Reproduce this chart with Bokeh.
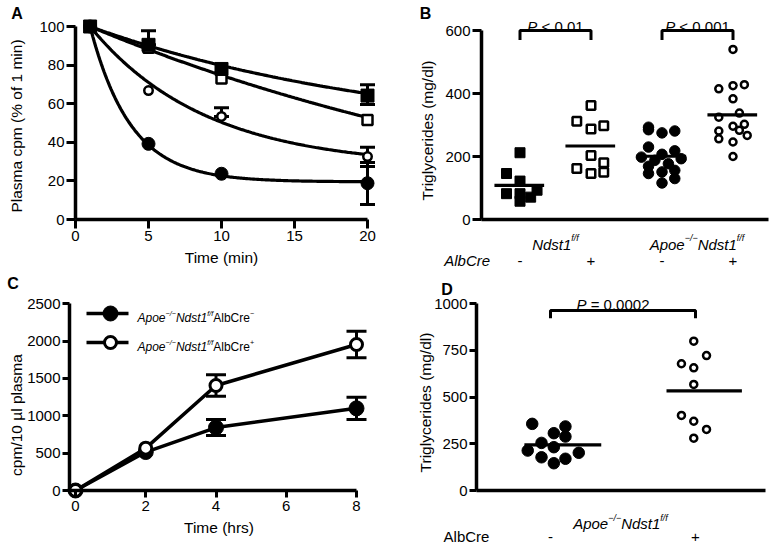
import numpy as np
from bokeh.plotting import figure
from bokeh.models import Range1d, FixedTicker, Label, Whisker, TeeHead, ColumnDataSource
from bokeh.layouts import column, row
from bokeh.embed import file_html
from bokeh.resources import INLINE

FONT = "Liberation Sans"

# ---------------- Panel A : plasma clearance ----------------
a_time = [1, 5, 10, 20]
a_sq_filled = [100, 90.5, 78, 64.2]
a_sq_open = [100, 89, 73, 51.6]
a_ci_open = [100, 66.8, 53.4, 32.6]
a_ci_filled = [100, 39.2, 23.7, 18.8]
# error bars (only points that have visible bars): time, upper, lower
a_err_time = [5, 20, 10, 20, 20]
a_err_hi = [97.8, 69.8, 57.9, 37.5, 29.5]
a_err_lo = [90.5, 59.6, 53.4, 27.5, 7.8]
# one-phase decay fits (filled sq, open sq, open circle, filled circle)
a_fit_plateau = [40, -20, 27, 19.5]
a_fit_k = [0.0456, 0.0263, 0.1265, 0.36]

# ---------------- Panel B : triglycerides ----------------
b_g1_val = [212, 146, 122, 93, 82, 82, 71, 58]
b_g1_off = [0.0, -0.19, 0.0, 0.24, -0.19, 0.0, 0.15, 0.0]
b_g2_val = [362, 312, 298, 287, 203, 180, 162, 150, 146]
b_g2_off = [0.0, -0.2, 0.18, 0.0, 0.0, 0.18, -0.2, 0.18, 0.0]
b_g3_val = [293, 285, 281, 275, 230, 218, 207, 198, 193, 188, 177, 169, 156, 151, 146, 130, 116]
b_g3_off = [-0.19, -0.19, 0.18, 0.0, -0.19, 0.18, 0.0, -0.29, 0.27, -0.1, 0.09, -0.19, 0.18, 0.0, -0.19, 0.18, 0.0]
b_g4_val = [540, 428, 425, 415, 383, 338, 325, 302, 296, 283, 281, 267, 256, 246, 200]
b_g4_off = [0.0, 0.16, 0.0, -0.2, 0.0, 0.09, -0.2, 0.16, 0.0, 0.09, -0.2, 0.2, -0.2, 0.0, 0.0]
b_pvals = ["< 0.01", "< 0.001"]
b_albcre = ["-", "+", "-", "+"]

# ---------------- Panel C : time course ----------------
c_time = [0, 2, 4, 8]
c_minus = [0, 515, 843, 1100]
c_minus_err = [0, 0, 107, 150]
c_plus = [0, 567, 1406, 1955]
c_plus_err = [0, 0, 143, 178]

# ---------------- Panel D : triglycerides ----------------
d_g1_val = [357, 343, 307, 289, 255, 232, 214, 202, 178, 170, 146]
d_g1_off = [-0.126, 0.103, 0.023, 0.103, -0.062, 0.023, -0.157, 0.195, -0.062, 0.103, 0.023]
d_g2_val = [800, 723, 679, 657, 568, 402, 371, 327, 280]
d_g2_off = [-0.012, 0.076, -0.097, -0.012, -0.012, -0.097, -0.012, 0.076, -0.012]
d_pval = "= 0.0002"
d_albcre = ["-", "+"]

# ---------------- helpers ----------------
WID = {' ': 278, '%': 889, '(': 333, ')': 333, '+': 584, '-': 333, '.': 278, '/': 278,
       '<': 584, '=': 584, '>': 584, 'A': 667, 'B': 667, 'C': 722, 'D': 722, 'N': 722,
       'P': 667, 'T': 611, 'a': 556, 'b': 556, 'c': 500, 'd': 556, 'e': 556, 'f': 278,
       'g': 556, 'i': 222, 'l': 222, 'm': 833, 'n': 556, 'o': 556, 'p': 556, 'r': 333,
       's': 500, 't': 278, 'u': 556, 'y': 500, '\u2212': 584, '\u00b5': 576}


def text_w(s, size):
    return sum(WID.get(ch, 556) for ch in s) * size / 1000.0


def mapper(px_ref, x_ref, sx, py_ref, y_ref, sy):
    return lambda px, py: (x_ref + (px - px_ref) / sx, y_ref + (py_ref - py) / sy)


def rich(p, m, px, py, parts, size, align="center"):
    """px, py: page position (py = text baseline)"""
    x, y = m(px, py)
    items, total = [], 0.0
    for txt, style, sup in parts:
        sz = size * 0.6 if sup else size
        items.append((txt, style, sup, sz, text_w(txt, sz)))
        total += items[-1][4]
    off = -total / 2 if align == "center" else 0.0
    for txt, style, sup, sz, w in items:
        body = txt.lstrip(" ")
        lead = text_w(txt[:len(txt) - len(body)], sz)
        p.add_layout(Label(x=x, y=y, x_offset=off + lead, y_offset=size * 0.40 if sup else 0,
                           text=body, text_font=FONT, text_font_size=f"{sz:.1f}px",
                           text_font_style=style, text_align="left",
                           text_baseline="alphabetic", text_color="black"))
        off += w


def simple_label(p, m, px, py, txt, size, style="normal", angle=0.0):
    x, y = m(px, py)
    p.add_layout(Label(x=x, y=y, text=txt, text_font=FONT, text_font_size=f"{size}px",
                       text_font_style=style, text_align="center", text_baseline="middle",
                       angle=angle, text_color="black"))


def make_panel(ox, oy, W, H, m, tick_out):
    x0, y0 = m(ox, oy + H)
    x1, y1 = m(ox + W, oy)
    p = figure(width=W, height=H, x_range=Range1d(x0, x1), y_range=Range1d(y0, y1),
               output_backend="svg", toolbar_location=None,
               min_border=0, min_border_left=0, min_border_right=0,
               min_border_top=0, min_border_bottom=0)
    p.title.visible = False
    p.outline_line_color = None
    p.xgrid.visible = False
    p.ygrid.visible = False
    p.background_fill_color = "white"
    p.border_fill_color = "white"
    for ax in (p.xaxis[0], p.yaxis[0]):
        ax.axis_line_width = 3.5
        ax.axis_line_color = "black"
        ax.major_tick_line_width = 3
        ax.major_tick_line_color = "black"
        ax.major_tick_in = 0
        ax.major_tick_out = tick_out
        ax.minor_tick_out = 0
        ax.minor_tick_in = 0
        ax.major_label_text_font = FONT
        ax.major_label_text_font_size = "15px"
        ax.major_label_text_color = "black"
        ax.major_label_standoff = 2
    return p


def no_ticks(ax):
    ax.ticker = FixedTicker(ticks=[])
    ax.major_tick_out = 0
    ax.major_label_text_font_size = "0px"


# ================= Panel A =================
mA = mapper(75, 0, 14.6, 219, 0, 1.93)
pA = make_panel(0, 0, 390, 268, mA, 9)
pA.xaxis.fixed_location = 0
pA.yaxis.fixed_location = 0
pA.xaxis.ticker = FixedTicker(ticks=[0, 5, 10, 15, 20])
pA.xaxis.bounds = (0, 20)
pA.yaxis.ticker = FixedTicker(ticks=[0, 20, 40, 60, 80, 100])
pA.yaxis.bounds = (0, 100)

srcAe = ColumnDataSource(dict(t=a_err_time, hi=a_err_hi, lo=a_err_lo))
pA.add_layout(Whisker(base="t", upper="hi", lower="lo", source=srcAe, line_width=3,
                      upper_head=TeeHead(size=15, line_width=3),
                      lower_head=TeeHead(size=15, line_width=3)))
tt = np.linspace(1, 20, 200)
for P, k in zip(a_fit_plateau, a_fit_k):
    pA.line(tt, P + (100 - P) * np.exp(-k * (tt - 1)), line_width=3.2, line_color="black")
pA.scatter(a_time, a_ci_filled, marker="circle", size=13, fill_color="black", line_color="black")
pA.scatter(a_time, a_ci_open, marker="circle", size=8.5, fill_color="white", line_color="black", line_width=2.5)
pA.scatter(a_time, a_sq_open, marker="square", size=10, fill_color="white", line_color="black", line_width=2.5)
pA.scatter(a_time, a_sq_filled, marker="square", size=13, fill_color="black", line_color="black")
simple_label(pA, mA, 16, 125.5, "Plasma cpm (% of 1 min)", 15.5, angle=np.pi / 2)
simple_label(pA, mA, 221, 257, "Time (min)", 15.5)
simple_label(pA, mA, 16.5, 13, "A", 16, style="bold")

# ================= Panel B =================
mB = mapper(519.5, 1, 71, 219, 0, 0.315)
pB = make_panel(390, 0, 384, 268, mB, 9)
pB.yaxis.fixed_location = mB(481, 0)[0]
pB.xaxis.fixed_location = 0
no_ticks(pB.xaxis[0])
pB.xaxis.bounds = (mB(481, 0)[0], mB(768, 0)[0])
pB.yaxis.ticker = FixedTicker(ticks=[0, 200, 400, 600])
pB.yaxis.bounds = (0, 600)

b_vals = [b_g1_val, b_g2_val, b_g3_val, b_g4_val]
b_offs = [b_g1_off, b_g2_off, b_g3_off, b_g4_off]
b_style = [("square", 10, "black", 1), ("square", 8.5, "white", 2.5),
           ("circle", 10.5, "black", 1), ("circle", 7, "white", 2.5)]
for gi, (vals, offs, st) in enumerate(zip(b_vals, b_offs, b_style)):
    xs = [gi + 1 + o for o in offs]
    pB.scatter(xs, vals, marker=st[0], size=st[1], fill_color=st[2], line_color="black", line_width=st[3])
b_means = [float(np.mean(v)) for v in b_vals]
pB.segment(x0=[i + 1 - 0.36 for i in range(4)], x1=[i + 1 + 0.34 for i in range(4)],
           y0=b_means, y1=b_means, line_width=3.2, line_color="black")
for (g1, g2), pv in zip([(1, 2), (3, 4)], b_pvals):
    pB.line([g1, g1, g2, g2], [570, 600, 600, 570], line_width=3, line_color="black")
    pxc = 519.5 + ((g1 + g2) / 2 - 1) * 71
    rich(pB, mB, pxc, 25.5, [("P", "italic", False), (" " + pv, "normal", False)], 15)
rich(pB, mB, 555, 243.5, [("Ndst1", "italic", False), ("f/f", "italic", True)], 15)
rich(pB, mB, 696.5, 243.5, [("Apoe", "italic", False), ("\u2212/\u2212", "italic", True),
                            ("Ndst1", "italic", False), ("f/f", "italic", True)], 15)
simple_label(pB, mB, 466.7, 260, "AlbCre", 15, style="italic")
for gi, s in enumerate(b_albcre):
    simple_label(pB, mB, 519.5 + gi * 71, 260, s, 15)
simple_label(pB, mB, 426.5, 130, "Triglycerides (mg/dl)", 15.5, angle=np.pi / 2)
simple_label(pB, mB, 425, 13, "B", 16, style="bold")

# ================= Panel C =================
mC = mapper(75, 0, 35.125, 490, 0, 0.07468)
pC = make_panel(0, 268, 390, 276, mC, 7)
pC.yaxis.fixed_location = mC(69, 0)[0]
pC.xaxis.fixed_location = 0
pC.xaxis.ticker = FixedTicker(ticks=[0, 2, 4, 6, 8])
pC.xaxis.bounds = (mC(69, 0)[0], 8)
pC.yaxis.ticker = FixedTicker(ticks=[0, 500, 1000, 1500, 2000, 2500])
pC.yaxis.bounds = (0, 2500)
pC.xaxis.major_label_standoff = 3

for vals, errs in [(c_minus, c_minus_err), (c_plus, c_plus_err)]:
    idx = [i for i, e in enumerate(errs) if e > 0]
    src = ColumnDataSource(dict(t=[c_time[i] for i in idx],
                                hi=[vals[i] + errs[i] for i in idx],
                                lo=[vals[i] - errs[i] for i in idx]))
    pC.add_layout(Whisker(base="t", upper="hi", lower="lo", source=src, line_width=3,
                          upper_head=TeeHead(size=20, line_width=3),
                          lower_head=TeeHead(size=20, line_width=3)))
pC.line(c_time, c_minus, line_width=3.5, line_color="black")
pC.line(c_time, c_plus, line_width=3.5, line_color="black")
pC.scatter(c_time, c_minus, marker="circle", size=15, fill_color="black", line_color="black")
pC.scatter(c_time, c_plus, marker="circle", size=12, fill_color="white", line_color="black", line_width=3)
# legend
for py, fill, sz, lw, sign in [(313, "black", 15, 1, "\u2212"), (342, "white", 12, 3, "+")]:
    xa, ya = mC(86, py)
    xb, _ = mC(128, py)
    xm, _ = mC(110, py)
    pC.line([xa, xb], [ya, ya], line_width=3.5, line_color="black")
    pC.scatter([xm], [ya], marker="circle", size=sz, fill_color=fill, line_color="black", line_width=lw)
    rich(pC, mC, 137, py + 4.5, [("Apoe", "italic", False), ("\u2212/\u2212", "italic", True),
                                 ("Ndst1", "italic", False), ("f/f", "italic", True),
                                 ("AlbCre", "normal", False), (sign, "normal", True)], 12, align="left")
simple_label(pC, mC, 15.5, 414.5, "cpm/10 \u00b5l plasma", 15.5, angle=np.pi / 2)
simple_label(pC, mC, 218.5, 527, "Time (hrs)", 15.5)
simple_label(pC, mC, 12.5, 282.5, "C", 16, style="bold")

# ================= Panel D =================
mD = mapper(550, 1, 145, 490, 0, 0.18667)
pD = make_panel(390, 268, 384, 276, mD, 7)
pD.yaxis.fixed_location = mD(476, 0)[0]
pD.xaxis.fixed_location = 0
no_ticks(pD.xaxis[0])
pD.xaxis.bounds = (mD(476, 0)[0], mD(765, 0)[0])
pD.yaxis.ticker = FixedTicker(ticks=[0, 250, 500, 750, 1000])
pD.yaxis.bounds = (0, 1000)
pD.scatter([1 + o for o in d_g1_off], d_g1_val, marker="circle", size=11.5, fill_color="black", line_color="black")
pD.scatter([2 + o for o in d_g2_off], d_g2_val, marker="circle", size=7, fill_color="white", line_color="black", line_width=2.5)
d_means = [float(np.mean(d_g1_val)), float(np.mean(d_g2_val))]
pD.segment(x0=[1 - 0.18, 2 - 0.2], x1=[1 + 0.35, 2 + 0.32], y0=d_means, y1=d_means,
           line_width=3.2, line_color="black")
pD.line([1, 1, 2, 2], [923, 964, 964, 923], line_width=3, line_color="black")
rich(pD, mD, 612.5, 303.5, [("P", "italic", False), (" " + d_pval, "normal", False)], 15)
rich(pD, mD, 620, 523, [("Apoe", "italic", False), ("\u2212/\u2212", "italic", True),
                        ("Ndst1", "italic", False), ("f/f", "italic", True)], 15)
simple_label(pD, mD, 466, 536, "AlbCre", 15)
for gi, s in enumerate(d_albcre):
    simple_label(pD, mD, 550 + gi * 145, 536, s, 15)
simple_label(pD, mD, 425, 402, "Triglycerides (mg/dl)", 15.5, angle=np.pi / 2)
simple_label(pD, mD, 446.5, 288.5, "D", 16, style="bold")

layout = column(row(pA, pB, spacing=0), row(pC, pD, spacing=0), spacing=0)
open("out.html", "w").write(file_html(layout, INLINE))
